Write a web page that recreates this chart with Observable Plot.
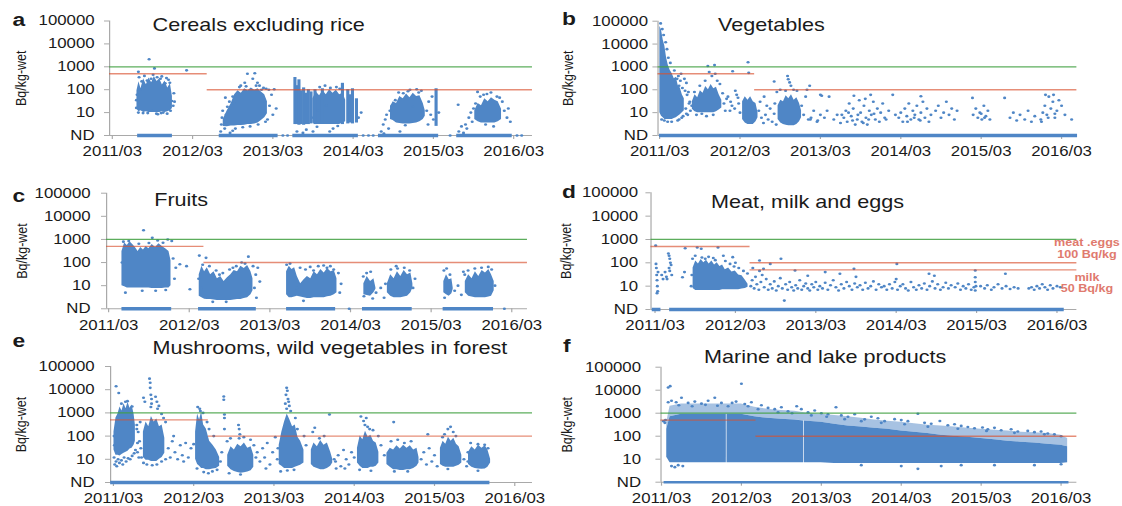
<!DOCTYPE html>
<html><head><meta charset="utf-8">
<script src="https://cdn.jsdelivr.net/npm/d3@7"></script>
<script src="https://cdn.jsdelivr.net/npm/@observablehq/plot@0.6"></script>
<style>
html,body{margin:0;padding:0;background:#fff;}
#fig{position:relative;width:935px;height:506px;transform:scaleX(1.2);transform-origin:0 0;font-family:"Liberation Sans",Arial,Helvetica,sans-serif;}
#fig > div{position:absolute;}
#fig svg{overflow:visible;}
</style></head><body><div id="fig"></div>
<script>
// ---------- shared labels ----------
const ND = 1;
const xTickMonths = [0, 12, 24, 36, 48, 60];            // months since 2011/03
const xTickLabels = ["2011/03","2012/03","2013/03","2014/03","2015/03","2016/03"];
const yTickValues = [1, 10, 100, 1000, 10000, 100000];
const yTickLabels = ["ND","10","100","1000","10000","100000"];
const panelLetters = ["a","b","c","d","e","f"];
const panelTitles = ["Cereals excluding rice","Vegetables","Fruits","Meat, milk and eggs","Mushrooms, wild vegetables in forest","Marine and lake products"];
const yTitle = "Bq/kg-wet";
const meatNotes = ["meat .eggs","100 Bq/kg","milk","50 Bq/kg"];

// limits: [fromMonth, toMonth, Bq/kg]
const limit1000 = [[-5, 70, 1000]];
const limitsStd = [[-5, 14.2, 500], [14.2, 70, 100]];
const limitsMeat = [[-5, 14.2, 500], [14.2, 70, 100], [14.2, 70, 50]];

// ---------- panel a: cereals ----------
// dense clouds: [cluster, month, low, high]
const aCore = [[1,3.7,14,90],[1,4.0,11,220],[1,4.3,12,110],[1,4.7,10,300],[1,5.1,11,160],[1,5.5,10,320],[1,5.9,10,200],[1,6.3,10,380],[1,6.7,10,230],[1,7.1,10,300],[1,7.5,11,160],[1,7.9,10,240],[1,8.3,11,120],[1,8.7,12,180],[1,9.0,15,50],
[2,16.6,2.5,5],[2,17.2,2.4,12],[2,17.8,2.6,25],[2,18.3,2.6,60],[2,18.8,2.7,90],[2,19.3,2.7,70],[2,19.8,2.8,110],[2,20.3,3,90],[2,20.8,3,120],[2,21.3,3.2,95],[2,21.8,3.5,110],[2,22.3,4.5,80],[2,22.8,6,60],[2,23.2,9,30],
[3,30,3.5,40],[3,30.5,3,80],[3,31,3,55],[3,31.5,3,90],[3,32,3,60],[3,32.5,3,100],[3,33,3,70],[3,33.5,3,95],[3,34,3,60],[3,34.5,3.5,70],[3,34.9,4,35],
[4,41.6,5,18],[4,42,4.5,30],[4,42.5,3.5,25],[4,43,3.3,50],[4,43.5,3.2,40],[4,44,3.2,65],[4,44.5,3.2,45],[4,45,3.3,70],[4,45.5,3.5,50],[4,46,4,55],[4,46.5,5,25],[4,46.8,7,12],
[5,54.2,5,12],[5,54.7,4,25],[5,55.2,3.5,20],[5,55.7,3.5,40],[5,56.2,3.5,30],[5,56.7,3.5,45],[5,57.2,3.5,35],[5,57.7,4,30],[5,58.2,5,14]];
// columns of samples: [month, low, high]
const aStripes = [[27.3,3,340],[27.6,3,150],[27.9,2.8,270],[28.2,3,90],[28.6,2.8,120],[28.9,3,70],[29.3,3,100],[29.7,3.2,80],[30.3,3,100],[31.4,3.3,110],[34.4,3,190],[35.2,3.2,100],[35.6,3.5,60],[35.9,3.2,110],[36.5,3.5,40],[48.4,2.5,110]];
const aDots = [[3.6,35],[3.7,60],[3.6,16],[3.9,10],[3.9,600],[4.4,230],[5.5,2150],[5.8,300],[6.3,850],[6.8,8.5],[6,12],[7.6,10],[7.9,190],[8.4,270],[8.7,12],[8.9,32],[9.1,20],[9.2,70],[4.2,100],[5,160],[6.7,350],[7.2,300],[11.1,700],
[4,350],[4.8,400],[5.2,250],[6.1,450],[7.4,380],[8.1,320],[8.6,200],[4.6,9.5],[5.3,9.5],[6.6,9],[7.3,9.5],[8.2,9],[9.3,30],
[16.2,1.5],[16.3,3],[16.4,6],[16.5,12],[16.8,2],[17,8],[17.2,18],[16.9,45],[18,1.6],[18.2,25],[18.6,60],[19.2,150],[19.8,200],[20.2,500],[21,300],[21.3,520],[21.7,200],[22,150],[22.6,120],[23,110],[23.4,100],[23.5,20],[23.8,60],[24.2,105],[24.5,15],[24,8],[23.2,5],[22.8,30],[17.6,1.3],[18.4,2],
[19,130],[20,140],[21.5,150],[22.3,100],[17.5,30],[18,50],[19.5,2.3],[20.6,2.5],[21.8,3],[22.9,4],
[29,1.8],[28.5,1.3],[30,1.5],[32.5,1.5],[33,2],[31.8,150],[32.6,120],[33.5,130],[32,20],[30.8,12],[35.5,8],[36.8,6],[37.2,10],[29.8,6],[27.6,1.5],[31,130],[34,110],[30.6,2.4],[33.7,2.6],
[40.2,1.5],[40.5,3],[40.8,5],[41,8],[41.3,2],[41.5,12],[40.6,1.2],[41.8,20],[42.3,35],[43.5,70],[44.5,100],[45.5,105],[46.2,90],[45,18],[47,12],[47.3,30],[47.6,8],[47.8,50],[48,5],[47.2,3],[48.8,10],[43,1.5],[42.8,75],[44.2,85],[45.8,75],[43.8,2.8],
[51.7,22],[51.8,1.5],[52.2,2.5],[52.5,1.3],[52.8,3],[53,2],[53.3,6],[53.6,10],[53.8,4],[54,15],[54.3,25],[54.6,80],[55.5,60],[56.6,75],[57.5,50],[58.3,30],[58.6,12],[59,6],[59.2,15],[59.5,4],[57,2.5],[55,50],[56,65],[57.9,45],[55.8,3],
[25.5,1],[26.2,1],[37.5,1],[38.3,1],[39,1],[50.5,1],[60.5,1],[61.2,1]];
const aND = [[3.8,9.0],[16,24.8],[27,36.8],[39.8,48.8],[51.5,59.8]];

// ---------- panel b: vegetables ----------
const bCore = [[1,0.05,10,60000],[1,0.3,7,40000],[1,0.55,6,15000],[1,0.8,5,8000],[1,1.05,5,2500],[1,1.3,5,1200],[1,1.6,5,700],[1,1.9,5,500],[1,2.2,5.5,300],[1,2.5,6,350],[1,2.8,7,150],[1,3.1,8,120],[1,3.4,10,60],[1,3.7,12,40],
[2,4.9,14,30],[2,5.3,11,60],[2,5.7,10,45],[2,6.1,10,90],[2,6.5,10,70],[2,6.9,10,140],[2,7.3,10,100],[2,7.7,10,170],[2,8.1,10,110],[2,8.5,11,130],[2,8.9,13,60],[2,9.3,16,35],
[3,12.4,5,30],[3,12.8,3.5,50],[3,13.2,3,35],[3,13.6,3,50],[3,14,3,30],[3,14.4,4,25],[3,14.7,6,10],
[4,17.7,5,20],[4,18.1,3.5,35],[4,18.5,3,30],[4,18.9,2.8,55],[4,19.3,2.7,40],[4,19.7,2.7,60],[4,20.1,2.7,35],[4,20.5,3,45],[4,20.9,4,25],[4,21.2,6,12]];
const bDots = [[0.15,80000],[0.4,45000],[0.6,25000],[0.9,12000],[1.1,6000],[1.3,2500],[1.6,1500],[2.2,700],[2.8,400],[3.2,500],[3.7,300],[4,200],[4.3,80],[4.5,30],[3.9,15],[4.2,8],[3.3,6],[2.7,4.5],[1.8,4],
[2.6,300],[2.9,150],[3.1,250],[3.4,120],[3.8,90],[4.1,60],[4.4,25],[4.6,12],[3.5,7],[2.9,5],[4,9],[1.2,4],[0.7,4.5],[0.3,5],
[4.8,20],[5.2,80],[5.5,8],[6,150],[6.3,9],[6.8,250],[7.2,1100],[7.4,600],[7.8,400],[8.2,1200],[8.3,500],[8.6,250],[9,180],[9.4,70],[9.6,25],[9.8,12],[7,7],[8,8],[10.2,50],[10.6,30],[10.9,650],[11.2,15],[11.5,60],[11.8,25],[10.5,12],[10,40],[10.8,20],[11.3,90],[11.7,45],[12,10],
[13.2,1600],[13.3,550],
[14.8,12],[15.2,6],[15.5,3.5],[15.8,8],[16.2,5],[16.5,15],[16.8,4],[17.1,9],[17.4,3],[17.2,25],[15,30],[17.1,230],[15.6,50],[16,20],
[17.5,80],[18,100],[18.8,90],[19.1,400],[19.2,290],[19.4,210],[19.6,150],[20,100],[20.5,90],[21.2,20],[21.5,8],[21.8,50],[22,100],[22.2,5],[22.6,6],[23,12],[23.5,4],[24,60],[22.4,150],[22.5,5],[23.6,4.5],[24,8],
[24.2,55],[24.6,6],[25,12],[25.3,50],
[26,5],[26.5,8],[27,3.5],[27.5,6],[27.8,12],[28,4],[28.3,25],[28.6,7],[28.9,15],[29.2,3],[29.5,5],[29.8,35],[30,10],[30.2,4],[30.5,20],[30.8,6],[31,3],[31.3,12],[31.6,8],[31.9,30],[32.2,5],[32.5,15],[32.8,4],[33,10],[33.3,25],[33.6,6],[30.7,40],[31.5,60],[29,55],[28.8,4.5],[29.6,8],[30.4,3.5],[31.2,5],[32,9],[28.2,10],[27.2,8],
[33.8,5],[34.2,12],[34.8,60],[35.2,8],
[35.7,6],[36,10],[36.3,4],[36.6,15],[36.9,7],[37.2,25],[37.5,5],[37.8,12],[38.1,8],[38.4,20],[38.7,5],[39,10],[39.3,30],[39.6,6],[39.9,15],[40.2,4],[40.5,8],[39,52],[37,4],[38,6],[38.9,4.5],
[41.2,12],[41.6,20],[42,6],[42.4,10],[42.8,30],[43.2,8],[43.6,15],[44,5],[44.4,12],
[46.7,44],[46.8,8],[47.2,15],[47.5,6],[47.8,10],[48.1,5],[48.4,20],[48.7,7],[49,12],[49.3,5],[51.5,44],[48,9],[48.5,6],
[52.3,6],[52.8,10],[53.3,4.5],[53.8,8],[54.5,5],[55,12],[55.5,4],[56,7],
[56.9,5],[57.2,10],[57.5,20],[57.8,8],[58.1,50],[58.4,15],[58.7,30],[59,6],[59.3,12],[59.6,35],[57.6,60],[58.8,60],[60,20],[57,4],[58,6],[59,9],
[60.5,8],[61.5,5]];
const bND = [[0,62.4]];

// ---------- panel c: fruits ----------
const cCore = [[1,2.0,10,300],[1,2.4,9,700],[1,2.8,8,550],[1,3.2,8,800],[1,3.6,8,600],[1,4.0,8,450],[1,4.4,8,300],[1,4.8,8,450],[1,5.2,8,350],[1,5.6,8,500],[1,6.0,8,400],[1,6.5,7.5,600],[1,7.0,7.5,450],[1,7.5,7.5,650],[1,8.0,7.5,500],[1,8.5,8,400],[1,9.0,8,300],[1,9.3,10,120],
[2,13.5,3.5,30],[2,13.9,3,70],[2,14.3,2.6,40],[2,14.7,2.5,60],[2,15.2,2.5,30],[2,15.7,2.4,40],[2,16.2,2.3,20],[2,16.7,2.3,25],[2,17.2,2.3,15],[2,17.7,2.3,22],[2,18.2,2.3,30],[2,18.7,2.4,45],[2,19.2,2.5,40],[2,19.7,2.5,70],[2,20.2,2.8,55],[2,20.7,3,75],[2,21.2,4,40],[2,21.5,6,20],
[3,26.5,4,40],[3,26.9,3,70],[3,27.3,3,50],[3,27.7,3.2,60],[3,28.1,3.5,25],[3,28.6,3.2,12],[3,29.1,3,18],[3,29.6,2.8,25],[3,30.1,2.8,20],[3,30.6,3,40],[3,31.1,3,30],[3,31.6,3,50],[3,32.1,3,35],[3,32.6,3.3,55],[3,33.1,3.5,40],[3,33.6,4,45],[3,34,5,20],
[4,38,4,12],[4,38.5,3.8,25],[4,39,3.5,15],[4,39.5,5,20],[4,39.8,7,8],
[5,41.5,5,12],[5,42,3.5,30],[5,42.5,3,20],[5,43,3,40],[5,43.5,3,25],[5,44,3.2,45],[5,44.5,3.5,30],[5,45,5,35],[5,45.3,8,12],
[6,49.9,5,15],[6,50.3,4,30],[6,50.7,3.5,18],[6,51.1,4.5,20],[6,51.3,7,8],
[7,53.1,5,15],[7,53.6,3.5,30],[7,54.1,3.2,20],[7,54.6,3,40],[7,55.1,3,25],[7,55.6,3,45],[7,56.1,3,35],[7,56.6,3.2,50],[7,57,3.5,30],[7,57.4,6,15]];
const cDots = [[2,100],[2.2,800],[3,850],[5.2,2500],[6.5,1170],[7.3,900],[8.1,720],[8.8,1000],[9.4,850],[4.5,650],[6,700],[2.5,5],[5,6],[7,6],[8.5,6.5],[9.6,150],[10,60],[10.6,85],[11.6,70],[12.1,7],[9.8,20],
[13.5,200],[14.5,160],[14,80],[15,70],[16,45],[17,35],[18,50],[19,70],[19.8,100],[20.3,90],[20.8,180],[21.5,70],[21.9,30],[22.2,60],[22.5,15],[21.7,8],[13.8,8],[13.4,20],[22,3],[16.5,30],[18.5,60],[15.5,2],[17.5,2],
[26.5,80],[27,90],[28.5,60],[29.3,50],[30,65],[30.5,45],[31.2,70],[32,75],[32.5,60],[33,70],[33.5,50],[34.2,35],[34.6,12],[29,2.2],[28,8],[34.4,5],
[37.9,25],[38.4,35],[39,40],[39.8,5],[40.5,8],[41,3],[41.2,12],[42,50],[43,55],[44,60],[44.8,45],[45.3,8],[45.6,20],[42.8,70],[38,3.5],[39.3,2.8],
[49.9,45],[50.3,55],[50.8,30],[51.5,6],[52,10],[52.5,4],[53,30],[53.5,45],[54.5,55],[55.5,60],[56.5,65],[57,50],[57.5,10],[52.8,40],[50,3],
[35.8,1],[58.9,1]];
const cND = [[2,9.4],[13.4,22],[26.5,33.8],[37.8,45.2],[49.8,57.3]];

// ---------- panel d: meat, milk and eggs ----------
const dCore = [[1,5.7,8,60],[1,6.1,6.5,120],[1,6.5,6.5,90],[1,6.9,6.5,140],[1,7.3,6.5,100],[1,7.7,6.5,130],[1,8.1,6.5,90],[1,8.5,6.5,120],[1,8.9,6.5,80],[1,9.3,6.5,100],[1,9.7,6.5,70],[1,10.1,7,80],[1,10.5,7,50],[1,11,7,60],[1,11.5,7,40],[1,12,7,45],[1,12.5,7,30],[1,13,7.5,28],[1,13.5,8,18],[1,13.9,9,12]];
const dDots = [[0.1,550],[0.15,90],[0.2,60],[0.25,30],[0.3,18],[0.35,10],[0.4,6],[0.45,40],[0.3,5],
[2,250],[2.1,200],[2.2,150],[2.3,100],[2.4,80],[2.1,60],[1.5,40],[1.7,25],[2.5,30],[2.2,45],[1.8,20],[1,30],[1.2,20],
[4.4,40],[4.1,24],[4.5,420],[6.3,450],[6.9,400],[9.4,450],
[5.6,150],[6,200],[7,170],[8,180],[10.2,200],[11.6,175],[10.5,120],[11.2,90],[11.8,70],[12.5,60],[13.2,45],[13.8,35],[12,100],[5.5,30],[5.4,10],[7.5,150],[9,130],[8.7,160],
[14.3,10],[14.5,18],[14.8,8],[15,25],[15.2,12],[15.5,7],[15.8,15],[16,30],[16.3,9],[16.6,20],[16.9,7],[17.2,12],[17.5,8],[17.8,16],[18.1,6.5],[18.4,10],[18.7,22],[19,8],[15.6,125],[17.2,90],[18.8,150],[19.3,2.4],[15.6,45],[16.2,55],[14.6,60],
[19.5,12],[19.8,7],[20.1,15],[20.4,9],[20.7,6.5],[21,11],[21.3,8],[21.6,18],[21.9,7],[22.2,10],[22.5,13],[22.8,8],[23.1,6.5],[23.4,12],[23.7,9],[24,15],[24.3,7],[20.9,47],[22.8,28],
[24.6,10],[25,8],[25.4,14],[25.8,7],[26.2,11],[26.6,18],[27,9],[27.4,6.5],[27.8,12],[28.2,8],[28.6,15],[29,10],[29.4,7],[29.8,13],[30.2,9],[30.6,11],[31,7],[31.4,14],[31.8,8],[32.2,10],[32.6,16],[33,7],[33.4,12],[33.8,9],[29.7,55],[27.6,34],[25.4,40],[30,25],
[34.2,10],[34.6,7],[35,12],[35.4,8],[35.8,15],[36.2,7],[36.6,10],[37,12],[37.4,8],[37.8,6.5],[38.2,15],[38.6,9],[39,7],[39.4,11],[39.8,8],[40.2,13],[40.6,7],[41,10],[41.4,16],[41.8,8],[42.2,12],[42.6,7],[43,9],[43.4,14],[43.8,8],[44.2,11],[36.1,90],[36,20],[40.9,34],[41.7,28],
[44.8,9],[45.2,13],[45.6,7],[46,10],[46.4,8],[46.8,12],[47.2,7],[47.6,9],[47.8,47],[47.8,24],[47.8,15],[47.9,10],[47.8,6.5],[48.6,10],[49.2,8],[49.6,11],[50.2,7],[50.6,9],[51.2,12],[51.8,8],[52.3,34],[52.4,10],[53,7.5],[53.6,9],[54.2,8],
[55.8,8],[56.2,9],[56.6,7],[57,10],[57.4,8],[57.8,12],[58.2,9],[58.6,7],[59,11],[59.4,8],[60,10],[60.5,9]];
const dND = [[-0.4,0.9],[2.2,61.1]];

// ---------- panel e: mushrooms, wild vegetables ----------
const eCore = [[1,0.1,25,150],[1,0.4,15,600],[1,0.7,15,900],[1,1.0,14,1800],[1,1.3,16,1200],[1,1.6,18,2500],[1,1.9,20,1500],[1,2.2,22,2800],[1,2.5,28,1600],[1,2.8,30,2200],[1,3.1,40,900],[1,3.3,60,300],
[2,4.5,12,150],[2,4.9,9,400],[2,5.3,9,250],[2,5.7,8,700],[2,6.1,8,400],[2,6.5,8,550],[2,6.9,10,250],[2,7.3,12,300],[2,7.7,18,80],
[3,12.3,10,150],[3,12.6,6,900],[3,12.9,5,500],[3,13.2,4,1100],[3,13.5,4,300],[3,13.9,3.5,200],[3,14.4,3.5,60],[3,14.9,3.8,40],[3,15.4,4,25],[3,15.9,5,12],
[4,17.1,5,15],[4,17.6,3.5,35],[4,18.1,3,25],[4,18.6,2.7,45],[4,19.1,2.5,35],[4,19.6,2.6,50],[4,20.1,2.8,30],[4,20.6,3.2,35],[4,21,4.5,15],
[5,24.8,6,40],[5,25.2,5,150],[5,25.6,4,400],[5,26,4,900],[5,26.4,4,500],[5,26.8,4,250],[5,27.2,4.5,300],[5,27.6,5,90],[5,28,5.5,60],[5,28.5,7,25],
[6,29.6,6,25],[6,30,4.5,50],[6,30.5,4,35],[6,31,3.5,65],[6,31.5,3.5,40],[6,32,4,50],[6,32.5,5,20],[6,32.8,7,10],
[7,36.5,7,30],[7,36.9,5,100],[7,37.3,4,70],[7,37.7,4,160],[7,38.1,4,90],[7,38.5,4.5,110],[7,38.9,4.5,60],[7,39.3,5,50],[7,39.7,7,20],
[8,40.9,6,18],[8,41.4,4.5,30],[8,41.9,3.5,25],[8,42.4,3.5,38],[8,42.9,3.3,28],[8,43.4,3.3,40],[8,43.9,3.5,30],[8,44.4,3.5,38],[8,44.9,4,25],[8,45.4,5,30],[8,45.7,7,12],
[9,48.9,6,30],[9,49.3,5,60],[9,49.7,4.5,45],[9,50.1,4.5,90],[9,50.5,4.5,60],[9,50.9,4.5,80],[9,51.3,5,45],[9,51.7,5.5,35],[9,52.1,7,15],
[10,53.1,6,20],[10,53.6,4.5,35],[10,54.1,4,25],[10,54.6,3.8,40],[10,55.1,3.7,30],[10,55.6,3.8,38],[10,56,4.5,25],[10,56.4,7,10]];
const eDots = [[0.1,12],[0.2,6],[0.4,8],[0.5,5],[0.7,10],[0.9,7],[1.2,9],[1.4,6],[1.6,12],[1.9,8],[2.2,11],[2.5,10],[2.8,14],[3.1,18],[3.3,25],[0.4,14000],[0.8,7200],[2.1,3200],[2.8,1900],[1.2,2500],[1.8,3000],[0.15,40],[0.1,100],[3.5,200],[3.6,50],[3.8,12],
[3.5,300],[3.7,150],[3.9,60],[4.1,30],[4.2,12],[3.6,20],[4,400],
[5.4,30000],[5.5,20000],[5.5,12000],[5.6,6000],[5.7,4000],[5.7,2500],[5.6,1800],[6.3,5000],[6.5,3000],[6.6,1500],[6.8,2000],[7.2,900],[7.5,600],[7.8,400],[4.5,4500],[4.7,3000],[4.5,7],[5,6],[5.8,5.5],[6.5,6],[7.2,8],[7.8,10],
[8.2,30],[8.5,12],[8.8,60],[9.2,20],[9.6,10],[10,40],[10.3,15],[10.8,50],[11.2,12],[11.6,30],[12,45],[9,100],[10.5,8],
[12.6,1800],[12.9,1500],[13,1200],[13.4,1000],[12.5,4],[13.5,2.8],[14.2,2.5],[14.8,3],[15.5,3.5],[16,8],[16.2,20],[15,100],[14.3,200],[14,400],
[16.5,5100],[16.5,3700],[16.6,850],[16.6,600],[16.6,200],[18.7,300],[18.8,200],[18.9,120],[18.8,80],
[17,60],[17.5,80],[19.5,90],[20.5,70],[21,40],[21.3,12],[17.3,2.5],[19,2.2],
[21.5,20],[21.9,8],[22.3,30],[22.6,12],[23,50],[23.4,6],[23.8,20],[24.2,90],[24.5,10],[22.8,4],
[25.9,12000],[26,9000],[25.8,6000],[26.1,4000],[25.7,2500],[26.3,2000],[25.9,1500],[26.5,1200],[26.2,3000],[27.2,600],[27.5,200],[28.5,100],[28.8,40],[24.6,30],[25,3],[26,3.3],[27,3.5],
[29.8,150],[30.1,230],[32.3,850],[31.5,100],[30.8,80],[33,10],[33.3,4],
[33.2,8],[33.6,15],[34,5],[34.4,25],[34.8,10],[35.2,6],[35.6,20],[36,12],[34.6,4],
[37,700],[37.8,600],[37.4,450],[37.6,300],[38,250],[38.3,200],[38.8,180],[39.6,100],[40,40],[36.8,3.5],[38.5,3.2],
[41.5,60],[42.5,70],[43.5,50],[44.5,60],[41.9,400],[40.5,15],[42,3],[44,3],
[46,10],[46.4,20],[46.8,6],[47.2,30],[47.6,8],[48,15],[48.4,5],[47,120],
[49.5,120],[50,200],[50.4,250],[50.8,150],[51.2,100],[49.2,90],[52.4,10],[52.8,5],[53,20],[50,3.8],
[53.4,50],[54.5,45],[55.5,42],[56,30],[53,8],[54.5,3.2]];
const eND = [[-0.4,56.3]];

// ---------- panel f: marine and lake products ----------
const fCore = [[1,0.8,12,200],[1,1.3,7,700],[1,3,7,900],[1,6,7,900],[1,9.75,7,900],
[2,9.85,7,900],[2,12,7,900],[2,14,7,700],[2,16,7,600],[2,18,7,550],[2,20,7,500],[2,21.35,7,460],
[3,21.45,7,460],[3,24,7,400],[3,26,6.5,330],[3,28,6.5,280],[3,30,6.5,250],[3,32,6.5,220],[3,34,6.5,200],[3,36,6.5,170],[3,38,6.5,150],[3,40,6.5,130],[3,42,6.5,110],[3,44,6.5,100],[3,46,6.5,90],[3,48,6.5,80],[3,50,6.5,70],[3,52,6.5,60],[3,54,6.5,55],[3,56,6.5,50],[3,58,6.5,45],[3,60,6.5,40],[3,61,7,35]];
const fHalo = [[1,0.8,200,400],[1,1.3,700,2000],[1,3,900,2500],[1,6,900,2500],[1,9,900,2500],[1,12,900,2500],[1,14,700,1800],[1,16,600,1500],[1,18,550,1300],[1,20,500,1200],[1,22,450,1000],[1,24,400,900],[1,26,330,800],[1,28,280,700],[1,30,250,600],[1,32,220,500],[1,34,200,450],[1,36,170,400],[1,38,150,350],[1,40,130,300],[1,42,110,280],[1,44,100,250],[1,46,90,220],[1,48,80,200],[1,50,70,180],[1,52,60,170],[1,54,55,150],[1,56,50,140],[1,58,45,130],[1,60,40,110],[1,61,35,80]];
const fDots = [[0.3,450],[0.5,380],[0.6,500],[1,13000],[1.3,15000],[12,19000],[1,3000],[1.5,3500],[2.2,3000],[3,4700],[4,2800],[5,3200],[6,2600],[7,3500],[8,4700],[9,2800],[10.6,2800],[11.2,3200],[12.5,2500],[13.5,3000],[15,2200],[16,1700],[17,1500],[18,1800],[19,1200],[20.3,2000],[21,1500],[22,1100],[23,1300],[24,1000],[26.2,1800],[25,900],[27,800],[28,700],[29,900],[30.5,540],[31.5,700],[32.5,600],[33.5,450],[35,550],[36,500],[37,450],[38.5,950],[39.5,380],[40.5,350],[41.8,460],[43,300],[44,330],[45,280],[46,250],[47,220],[48.2,240],[49,200],[50,230],[51,180],[52.5,200],[53.5,160],[55,170],[56,150],[57,160],[58,130],[59,120],[60,100],
[2.6,2200],[4.6,2000],[6.6,2300],[8.4,2100],[10,2000],[13,2000],[14.5,1500],[17.5,1100],[19.6,1000],[22.5,800],[24.8,700],[27.5,550],[30,450],[33,380],[36.5,330],[40,260],[44.5,210],[48.8,170],[53,140],[57.5,120],
[1.5,5],[2,4.5],[2.5,5.5],[3.2,5],[38.5,3.8],[42,5],[45,5.5],[30,5.5],[36,5],[50,5.5],[56,5.5],[60,6]];
const fND = [[0.4,61.2]];

// ---------- layout (reference pixels) and styles ----------
const S = 1.2; // horizontal stretch of the figure
const blue = "#4f86c6", axisGray = "#a9a9a9", ink = "#1a1a1a";
const green = "#3f9f3f", red = "#d9502e", noteRed = "#e07a6e";
const layout = [
 {L:0,   T:0,   W:560, H:165, fx1:109, fx2:532,  fy1:20.5,  fy2:135,   x0:111.7, ppm:6.69, gap:15, ylab:20.5, lx:12,  ly:26,    tx:152,   ty:31},
 {L:560, T:0,   W:562, H:165, fx1:657, fx2:1076, fy1:20.7,  fy2:135,   x0:658.6, ppm:6.7,  gap:10, ylab:567,  lx:561, ly:25,    tx:717,   ty:31},
 {L:0,   T:165, W:560, H:165, fx1:106, fx2:527,  fy1:192.7, fy2:308.3, x0:108,   ppm:6.72, gap:16, ylab:22,   lx:12,  ly:201.7, tx:153.6, ty:205.7},
 {L:560, T:165, W:562, H:165, fx1:650, fx2:1076, fy1:192.3, fy2:309,   x0:654,   ppm:6.7,  gap:13, ylab:565,  lx:561, ly:198,   tx:710,   ty:207.3},
 {L:0,   T:330, W:560, H:176, fx1:110, fx2:532,  fy1:366,   fy2:482,   x0:112.8, ppm:6.69, gap:16, ylab:20.5, lx:12,  ly:347,   tx:151.8, ty:354},
 {L:560, T:330, W:562, H:176, fx1:660, fx2:1076, fy1:366.7, fy2:481.7, x0:660.5, ppm:6.66, gap:20, ylab:566,  lx:562, ly:352,   tx:703,   ty:362.3}
];
const noteLayout = {cx:1086, baselines:[246, 257.5, 281, 292]};

const panels = [
 {core:aCore, stripes:aStripes, dots:aDots, nd:aND, limits:limitsStd},
 {core:bCore, dots:bDots, nd:bND, limits:limitsStd},
 {core:cCore, dots:cDots, nd:cND, limits:limitsStd},
 {core:dCore, dots:dDots, nd:dND, limits:limitsMeat, notes:meatNotes},
 {core:eCore, dots:eDots, nd:eND, limits:limitsStd},
 {core:fCore, halo:fHalo, dots:fDots, nd:fND, limits:limitsStd}
];

const fig = document.getElementById("fig");
layout.forEach((p, i) => {
  const d = panels[i];
  const m1 = (p.fx1 - p.x0) / p.ppm, m2 = (p.fx2 - p.x0) / p.ppm;
  const tk = 5 / S;
  const marks = [
    Plot.ruleX([m1], {stroke: axisGray}),
    Plot.ruleY([ND], {stroke: axisGray}),
    Plot.axisY({ticks: yTickValues, tickFormat: v => yTickLabels[yTickValues.indexOf(v)], tickSize: tk, tickPadding: p.gap / S - tk, stroke: axisGray, fill: ink, fontSize: 14}),
    Plot.axisX({ticks: xTickMonths, tickFormat: v => xTickLabels[xTickMonths.indexOf(v)], tickSize: 4, tickPadding: 7, stroke: axisGray, fill: ink, fontSize: 14}),
    Plot.ruleY(d.nd, {x1: r => r[0], x2: r => r[1], y: () => ND, stroke: blue, strokeWidth: i === 5 ? 2.5 : 3.5})
  ];
  if (d.halo) marks.push(Plot.areaY(d.halo, {x: r => r[1], y1: r => r[2], y2: r => r[3], z: r => r[0], fill: blue, fillOpacity: 0.5}));
  marks.push(Plot.areaY(d.core, {x: r => r[1], y1: r => r[2], y2: r => r[3], z: r => r[0], fill: blue}));
  if (d.stripes) marks.push(Plot.ruleX(d.stripes, {x: r => r[0], y1: r => r[1], y2: r => r[2], stroke: blue, strokeWidth: 2.6}));
  marks.push(Plot.dot(d.dots, {x: r => r[0], y: r => r[1], r: 1.3, fill: blue}));
  marks.push(Plot.ruleY(limit1000, {x1: r => r[0], x2: r => r[1], y: r => r[2], stroke: green, strokeWidth: 1.3, strokeOpacity: 0.85, clip: true}));
  marks.push(Plot.ruleY(d.limits, {x1: r => r[0], x2: r => r[1], y: r => r[2], stroke: red, strokeWidth: 1.4, strokeOpacity: 0.65, clip: true}));
  marks.push(Plot.text([panelTitles[i]], {text: t => t, frameAnchor: "top-left", dx: (p.tx - p.fx1) / S, dy: p.ty - p.fy1, textAnchor: "start", lineAnchor: "bottom", fontSize: 18, fill: ink}));
  marks.push(Plot.text([panelLetters[i]], {text: t => t, frameAnchor: "top-left", dx: (p.lx - p.fx1) / S, dy: p.ly - p.fy1, textAnchor: "start", lineAnchor: "bottom", fontSize: 19, fontWeight: "bold", fill: ink}));
  marks.push(Plot.text([yTitle], {text: t => t, frameAnchor: "left", dx: (p.ylab - p.fx1) / S, rotate: -90, textAnchor: "middle", lineAnchor: "middle", fontSize: 12.5, fill: ink}));
  if (d.notes) d.notes.forEach((n, k) => {
    marks.push(Plot.text([n], {text: t => t, frameAnchor: "top-right", dx: (noteLayout.cx - p.fx2) / S, dy: noteLayout.baselines[k] - p.fy1, textAnchor: "middle", lineAnchor: "bottom", fontSize: 10.5, fontWeight: "bold", fill: noteRed}));
  });
  const svg = Plot.plot({
    width: p.W / S, height: p.H,
    marginLeft: (p.fx1 - p.L) / S, marginRight: (p.L + p.W - p.fx2) / S,
    marginTop: p.fy1 - p.T, marginBottom: p.T + p.H - p.fy2,
    x: {domain: [m1, m2]},
    y: {type: "log", domain: [1, 100000]},
    style: {fontFamily: "'Liberation Sans', Arial, Helvetica, sans-serif", fontSize: "14px", background: "transparent", overflow: "visible"},
    marks
  });
  const div = document.createElement("div");
  div.style.left = (p.L / S) + "px";
  div.style.top = p.T + "px";
  div.appendChild(svg);
  fig.appendChild(div);
});
</script></body></html>
